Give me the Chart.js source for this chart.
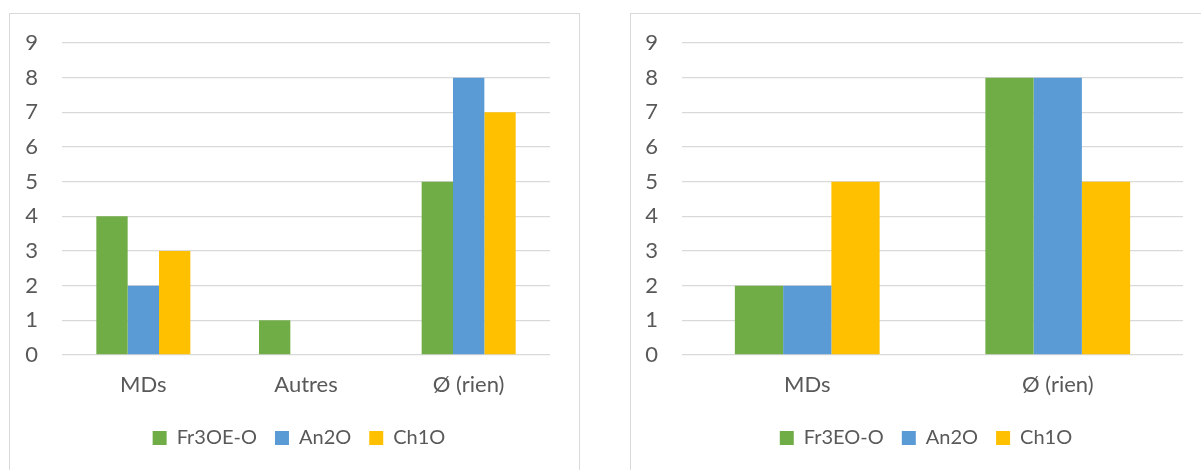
<!DOCTYPE html>
<html>
<head>
<meta charset="utf-8">
<script src="https://cdn.jsdelivr.net/npm/chart.js@4"></script>
<style>
  html, body { margin: 0; padding: 0; background: #fff; overflow: hidden; }
  .box { position: absolute; top: 13px; height: 470px; border: 1px solid #d9d9d9; background: #fff; }
  #box-left { left: 9px; width: 569px; }
  #box-right { left: 630px; width: 588px; }
  canvas { display: block; }
</style>
</head>
<body>
<div class="box" id="box-left"><canvas id="chart-left" width="569" height="456"></canvas></div>
<div class="box" id="box-right"><canvas id="chart-right" width="588" height="456"></canvas></div>
<script>
/* two grouped bar charts, Excel-like look */
const leftCategories = ['MDs', 'Autres', 'Ø (rien)'];
const leftFr = [4, 1, 5];
const leftAn = [2, 0, 8];
const leftCh = [3, 0, 7];
const leftNames = ['Fr3OE-O', 'An2O', 'Ch1O'];

const rightCategories = ['MDs', 'Ø (rien)'];
const rightFr = [2, 8];
const rightAn = [2, 8];
const rightCh = [5, 5];
const rightNames = ['Fr3EO-O', 'An2O', 'Ch1O'];

const yTicks = { min: 0, max: 9, step: 1 };

const COLORS = ['#70AD47', '#5B9BD5', '#FFC000'];
const TEXT = '#595959';
const GRID = '#d9d9d9';
const FONT = { family: 'Lato', size: 22 };
const LEGEND_FONT = { family: 'Lato', size: 20 };

// nudges the centred legend sideways (Excel centres it a bit differently)
const legendShift = {
  id: 'legendShift',
  afterLayout(chart, args, opts) {
    const lg = chart.legend;
    if (!lg || !opts.dx) return;
    lg.left += opts.dx;
    lg.right += opts.dx;
  },
};

function makeChart(id, cats, names, series, yWidth, padR, dx) {
  const ctx = document.getElementById(id);
  return new Chart(ctx, {
    type: 'bar',
    data: {
      labels: cats,
      datasets: series.map((data, i) => ({
        label: names[i], data, backgroundColor: COLORS[i], borderWidth: 0,
        categoryPercentage: 0.578, barPercentage: 1,
      })),
    },
    plugins: [legendShift],
    options: {
      responsive: false,
      animation: false,
      layout: { padding: { top: 29, right: padR, bottom: 12, left: 0 } },
      plugins: {
        tooltip: { enabled: false },
        legendShift: { dx },
        legend: {
          position: 'bottom',
          labels: { color: TEXT, font: LEGEND_FONT, boxWidth: 14, boxHeight: 14, padding: 18 },
        },
      },
      scales: {
        x: {
          grid: { display: false, drawTicks: false },
          border: { display: false },
          ticks: { color: TEXT, font: FONT, padding: 17, maxRotation: 0 },
          afterFit: (s) => { s.height = 55; },
        },
        y: {
          min: yTicks.min, max: yTicks.max,
          grid: { color: GRID, lineWidth: 1.3, drawTicks: true, tickLength: 20, tickColor: 'rgba(0,0,0,0)' },
          border: { display: false },
          ticks: { stepSize: yTicks.step, color: TEXT, font: FONT, padding: 4 },
          afterFit: (s) => { s.width = yWidth; },
        },
      },
    },
  });
}

makeChart('chart-left', leftCategories, leftNames, [leftFr, leftAn, leftCh], 52, 29, 19);
makeChart('chart-right', rightCategories, rightNames, [rightFr, rightAn, rightCh], 51, 36, 19);
</script>
</body>
</html>
